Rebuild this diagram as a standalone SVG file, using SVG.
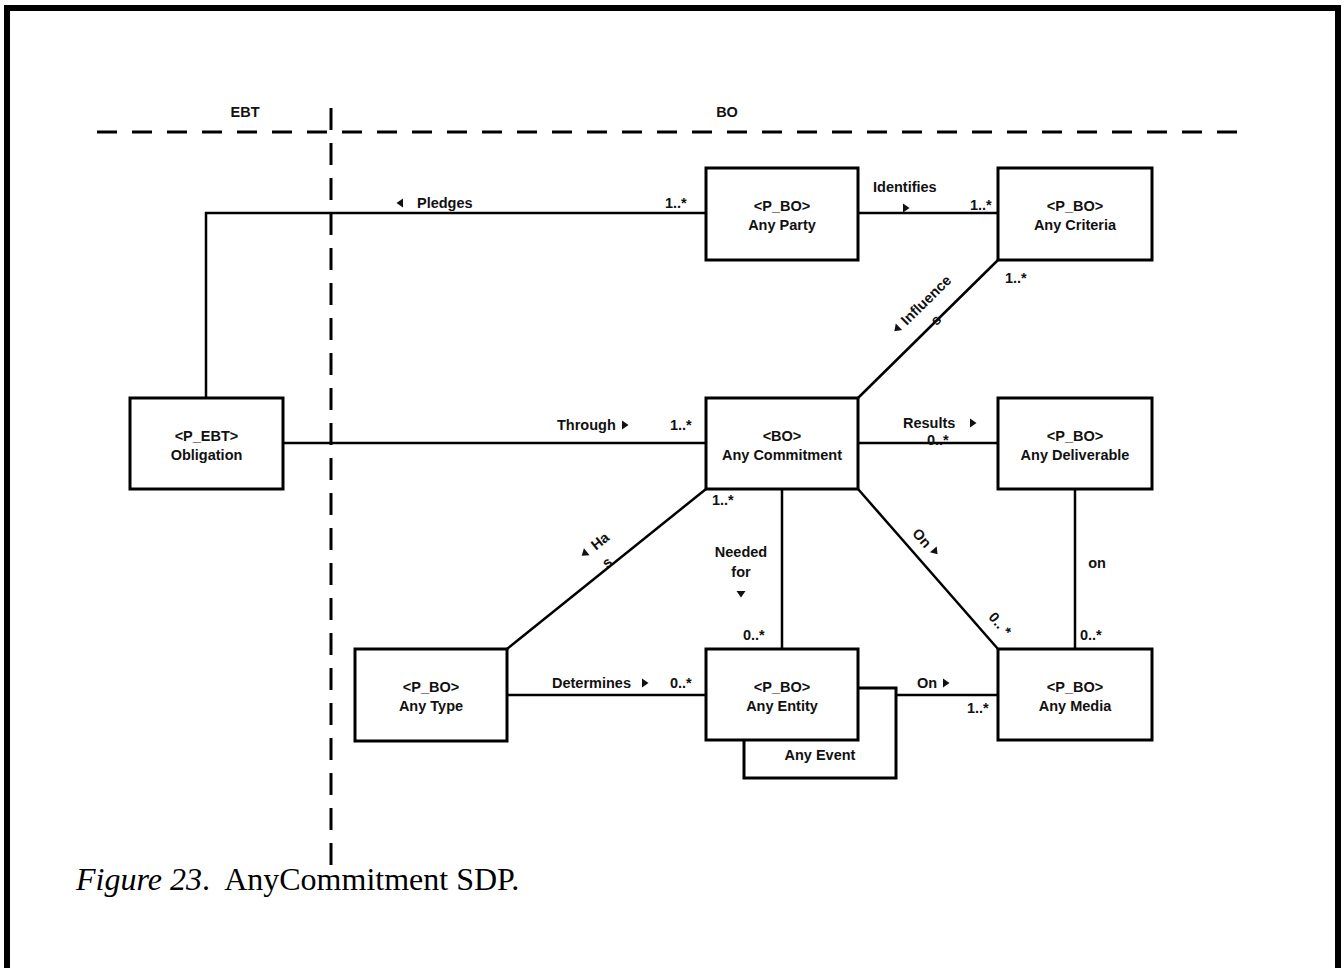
<svg xmlns="http://www.w3.org/2000/svg" xmlns:xlink="http://www.w3.org/1999/xlink" width="1344" height="968" viewBox="0 0 1344 968">
  <style>
    .frame { fill: none; stroke: #000; stroke-width: 6; }
    .lane { fill: none; stroke: #000; stroke-width: 3; }
    .lane-h { stroke-dasharray: 20 15; }
    .lane-v { stroke-dasharray: 22 13; }
    .box { fill: #fff; stroke: #000; stroke-width: 3; }
    .link { fill: none; stroke: #000; stroke-width: 2.5; }
    text { font-family: "Liberation Sans", Arial, sans-serif; font-weight: bold; font-size: 14.5px; fill: #111; }
    .c { text-anchor: middle; }
    .cap { font-family: "Liberation Serif", "Times New Roman", serif; font-weight: normal; font-size: 32px; fill: #000; }
    .tri { fill: #111; }
  </style>
  <defs>
    <!-- small right-pointing direction marker for association names -->
    <path id="tri" d="M-3,-4.5 L3.5,0 L-3,4.5 Z"/>
  </defs>

  <rect width="1344" height="968" fill="#fff"/>
  <rect class="frame" x="7" y="8" width="1331" height="1000"/>

  <!-- swimlane separators -->
  <g id="lanes">
    <line class="lane lane-h" x1="97" y1="132" x2="1243" y2="132"/>
    <line class="lane lane-v" x1="331" y1="108" x2="331" y2="865"/>
    <text class="c" x="245" y="117">EBT</text>
    <text class="c" x="727" y="117">BO</text>
  </g>

  <!-- associations -->
  <g id="connectors">
    <!-- Pledges -->
    <polyline class="link" points="206,398 206,213 706,213"/>
    <use href="#tri" class="tri" transform="translate(400,203) rotate(180)"/>
    <text x="417" y="208">Pledges</text>
    <text x="665" y="208">1..*</text>

    <!-- Identifies -->
    <line class="link" x1="858" y1="213" x2="998" y2="213"/>
    <text x="873" y="192">Identifies</text>
    <use href="#tri" class="tri" transform="translate(906,208)"/>
    <text x="970" y="210">1..*</text>

    <!-- Influences -->
    <line class="link" x1="858" y1="398" x2="998" y2="260"/>
    <text x="1005" y="283">1..*</text>
    <g transform="translate(926,300) rotate(-44.6)">
      <use href="#tri" class="tri" transform="translate(-41,0) rotate(180)"/>
      <text class="c" x="0" y="5">Influence</text>
      <text class="c" x="-7" y="26">s</text>
    </g>

    <!-- Through -->
    <line class="link" x1="283" y1="443" x2="706" y2="443"/>
    <text x="557" y="430">Through</text>
    <use href="#tri" class="tri" transform="translate(625,425)"/>
    <text x="670" y="430">1..*</text>

    <!-- Results -->
    <line class="link" x1="858" y1="443" x2="998" y2="443"/>
    <text x="903" y="428">Results</text>
    <use href="#tri" class="tri" transform="translate(973,423)"/>
    <text x="927" y="445">0..*</text>

    <!-- Has -->
    <line class="link" x1="507" y1="649" x2="706" y2="489"/>
    <text x="712" y="505">1..*</text>
    <g transform="translate(600,541) rotate(-38.8)">
      <use href="#tri" class="tri" transform="translate(-20,0) rotate(180)"/>
      <text class="c" x="0" y="5">Ha</text>
      <text class="c" x="-8" y="26">s</text>
    </g>

    <!-- Needed for -->
    <line class="link" x1="782" y1="489" x2="782" y2="649"/>
    <text class="c" x="741" y="557">Needed</text>
    <text class="c" x="741" y="577">for</text>
    <use href="#tri" class="tri" transform="translate(741,594) rotate(90)"/>
    <text x="743" y="640">0..*</text>

    <!-- On (Commitment to Media) -->
    <line class="link" x1="858" y1="489" x2="998" y2="649"/>
    <g transform="translate(922,538) rotate(48.8)">
      <text class="c" x="0" y="5">On</text>
      <use href="#tri" class="tri" transform="translate(19,-1)"/>
    </g>
    <g transform="translate(1000,624) rotate(48.8)">
      <text class="c" x="0" y="5">0.. *</text>
    </g>

    <!-- on (Deliverable to Media) -->
    <line class="link" x1="1075" y1="489" x2="1075" y2="649"/>
    <text class="c" x="1097" y="568">on</text>
    <text x="1080" y="640">0..*</text>

    <!-- Determines -->
    <line class="link" x1="507" y1="695" x2="706" y2="695"/>
    <text x="552" y="688">Determines</text>
    <use href="#tri" class="tri" transform="translate(645,683)"/>
    <text x="670" y="688">0..*</text>

    <!-- On (Event to Media) -->
    <line class="link" x1="896" y1="695" x2="998" y2="695"/>
    <text x="917" y="688">On</text>
    <use href="#tri" class="tri" transform="translate(946,683)"/>
    <text x="967" y="713">1..*</text>
  </g>

  <!-- classes -->
  <g id="obligation">
    <rect class="box" x="130" y="398" width="153" height="91"/>
    <text class="c" x="206.5" y="441">&lt;P_EBT&gt;</text>
    <text class="c" x="206.5" y="460">Obligation</text>
  </g>
  <g id="any-party">
    <rect class="box" x="706" y="168" width="152" height="92"/>
    <text class="c" x="782" y="211">&lt;P_BO&gt;</text>
    <text class="c" x="782" y="230">Any Party</text>
  </g>
  <g id="any-criteria">
    <rect class="box" x="998" y="168" width="154" height="92"/>
    <text class="c" x="1075" y="211">&lt;P_BO&gt;</text>
    <text class="c" x="1075" y="230">Any Criteria</text>
  </g>
  <g id="any-commitment">
    <rect class="box" x="706" y="398" width="152" height="91"/>
    <text class="c" x="782" y="441">&lt;BO&gt;</text>
    <text class="c" x="782" y="460">Any Commitment</text>
  </g>
  <g id="any-deliverable">
    <rect class="box" x="998" y="398" width="154" height="91"/>
    <text class="c" x="1075" y="441">&lt;P_BO&gt;</text>
    <text class="c" x="1075" y="460">Any Deliverable</text>
  </g>
  <g id="any-type">
    <rect class="box" x="355" y="649" width="152" height="92"/>
    <text class="c" x="431" y="692">&lt;P_BO&gt;</text>
    <text class="c" x="431" y="711">Any Type</text>
  </g>
  <g id="any-event">
    <rect class="box" x="744" y="688" width="152" height="90"/>
    <text class="c" x="820" y="760">Any Event</text>
  </g>
  <g id="any-entity">
    <rect class="box" x="706" y="649" width="152" height="91"/>
    <text class="c" x="782" y="692">&lt;P_BO&gt;</text>
    <text class="c" x="782" y="711">Any Entity</text>
  </g>
  <g id="any-media">
    <rect class="box" x="998" y="649" width="154" height="91"/>
    <text class="c" x="1075" y="692">&lt;P_BO&gt;</text>
    <text class="c" x="1075" y="711">Any Media</text>
  </g>

  <text class="cap" x="76" y="890"><tspan font-style="italic">Figure 23</tspan>.&#160; AnyCommitment SDP.</text>
</svg>
